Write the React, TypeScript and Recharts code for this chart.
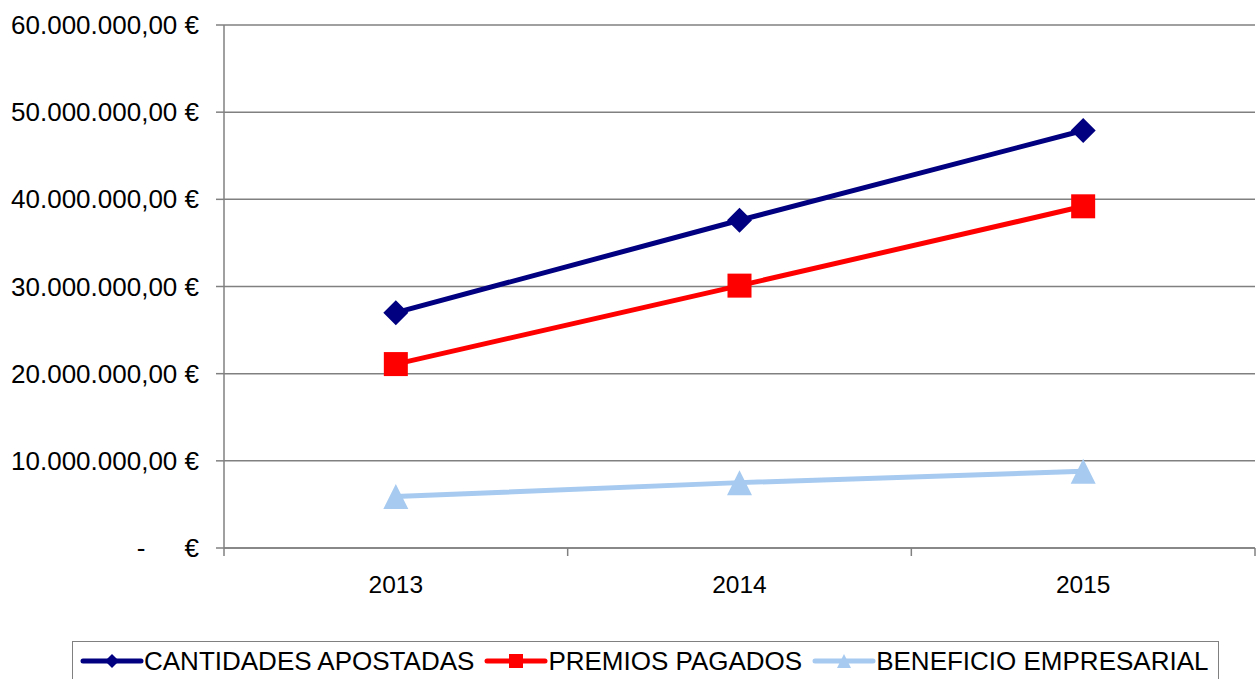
import React from 'react';
import { LineChart, Line, XAxis, YAxis, CartesianGrid, Legend } from 'recharts';

const years = ['2013', '2014', '2015'];
const cantidadesApostadas = [27000000, 37600000, 47900000];
const premiosPagados = [21100000, 30100000, 39200000];
const beneficioEmpresarial = [5900000, 7500000, 8800000];
const yTicks = [0, 10000000, 20000000, 30000000, 40000000, 50000000, 60000000];

const data = years.map((year, i) => ({
  year,
  cantidades: cantidadesApostadas[i],
  premios: premiosPagados[i],
  beneficio: beneficioEmpresarial[i],
}));

const series = [
  { key: 'cantidades', name: 'CANTIDADES APOSTADAS', color: '#000080', shape: 'diamond' },
  { key: 'premios', name: 'PREMIOS PAGADOS', color: '#FF0000', shape: 'square' },
  { key: 'beneficio', name: 'BENEFICIO EMPRESARIAL', color: '#A6CAF0', shape: 'triangle' },
];

const W = 1258;
const H = 679;
const MARGIN = { top: 25, right: 3, left: 0, bottom: 0 };
const Y_AXIS_W = 224;
const BAND = (W - MARGIN.left - MARGIN.right - Y_AXIS_W) / years.length;
const FONT = '"Liberation Sans", Arial, sans-serif';
const GREY = '#808080';

const euro = (v: number) =>
  v.toFixed(0).replace(/\B(?=(\d{3})+(?!\d))/g, '.') + ',00 €';

// marker shapes, excel style
const Marker = ({ shape, cx, cy, s, fill }: any) => {
  if (shape === 'diamond') {
    return <polygon points={`${cx},${cy - s} ${cx + s},${cy} ${cx},${cy + s} ${cx - s},${cy}`} fill={fill} />;
  }
  if (shape === 'square') {
    return <rect x={cx - s} y={cy - s} width={s * 2} height={s * 2} fill={fill} />;
  }
  return <polygon points={`${cx},${cy - s} ${cx + s},${cy + s} ${cx - s},${cy + s}`} fill={fill} />;
};

const YTick = ({ x, y, payload }: any) => {
  if (payload.value === 0) {
    return (
      <g fontFamily={FONT} fontSize={26} fill="#000">
        <text x={x - 58} y={y} dy="0.35em" textAnchor="middle">-</text>
        <text x={x} y={y} dy="0.35em" textAnchor="end">€</text>
      </g>
    );
  }
  return (
    <text x={x} y={y} dy="0.35em" textAnchor="end" fontFamily={FONT} fontSize={26} fill="#000">
      {euro(payload.value)}
    </text>
  );
};

const XTick = ({ x, y, payload, index }: any) => (
  <g>
    <line x1={x - BAND / 2} x2={x - BAND / 2} y1={y} y2={y + 8} stroke={GREY} strokeWidth={1.5} />
    {index === years.length - 1 && (
      <line x1={x + BAND / 2} x2={x + BAND / 2} y1={y} y2={y + 8} stroke={GREY} strokeWidth={1.5} />
    )}
    <text x={x} y={y + 45} textAnchor="middle" fontFamily={FONT} fontSize={24.5} fill="#000">
      {payload.value}
    </text>
  </g>
);

const LegendBox = () => (
  <div
    style={{
      display: 'inline-flex',
      alignItems: 'center',
      height: 40,
      boxSizing: 'border-box',
      border: `1px solid ${GREY}`,
      padding: '0 10px 0 7px',
      fontFamily: FONT,
      fontSize: 26,
      color: '#000',
      whiteSpace: 'nowrap',
      background: '#fff',
    }}
  >
    {series.map((s, i) => (
      <span key={s.key} style={{ display: 'inline-flex', alignItems: 'center', marginLeft: i ? 10 : 0 }}>
        <svg width={64} height={20}>
          <line x1={3} x2={61} y1={10} y2={10} stroke={s.color} strokeWidth={5} strokeLinecap="round" />
          <Marker shape={s.shape} cx={32} cy={10} s={7} fill={s.color} />
        </svg>
        <span>{s.name}</span>
      </span>
    ))}
  </div>
);

export default function App() {
  return (
    <div style={{ position: 'absolute', left: 0, top: 0 }}>
      <LineChart width={W} height={H} data={data} margin={MARGIN}>
        <CartesianGrid vertical={false} stroke={GREY} strokeWidth={1.5} />
        <XAxis
          dataKey="year"
          scale="band"
          height={131}
          tickLine={false}
          tickSize={0}
          tickMargin={0}
          tick={<XTick />}
          axisLine={{ stroke: GREY, strokeWidth: 1.5 }}
          interval={0}
        />
        <YAxis
          width={Y_AXIS_W}
          domain={[0, 60000000]}
          ticks={yTicks}
          interval={0}
          tickSize={8}
          tickMargin={17}
          tick={<YTick />}
          tickLine={{ stroke: GREY, strokeWidth: 1.5 }}
          axisLine={{ stroke: GREY, strokeWidth: 1.5 }}
        />
        <Legend
          layout="horizontal"
          verticalAlign="middle"
          content={<LegendBox />}
          wrapperStyle={{ left: 72, top: 641, width: 'auto' }}
        />
        {series.map((s) => (
          <Line
            key={s.key}
            dataKey={s.key}
            name={s.name}
            stroke={s.color}
            strokeWidth={5}
            isAnimationActive={false}
            activeDot={false}
            dot={(p: any) => (
              <Marker
                key={`${s.key}-${p.index}`}
                shape={s.shape}
                cx={p.cx}
                cy={p.cy}
                s={s.shape === 'square' ? 12 : 12.5}
                fill={s.color}
              />
            )}
          />
        ))}
      </LineChart>
    </div>
  );
}
